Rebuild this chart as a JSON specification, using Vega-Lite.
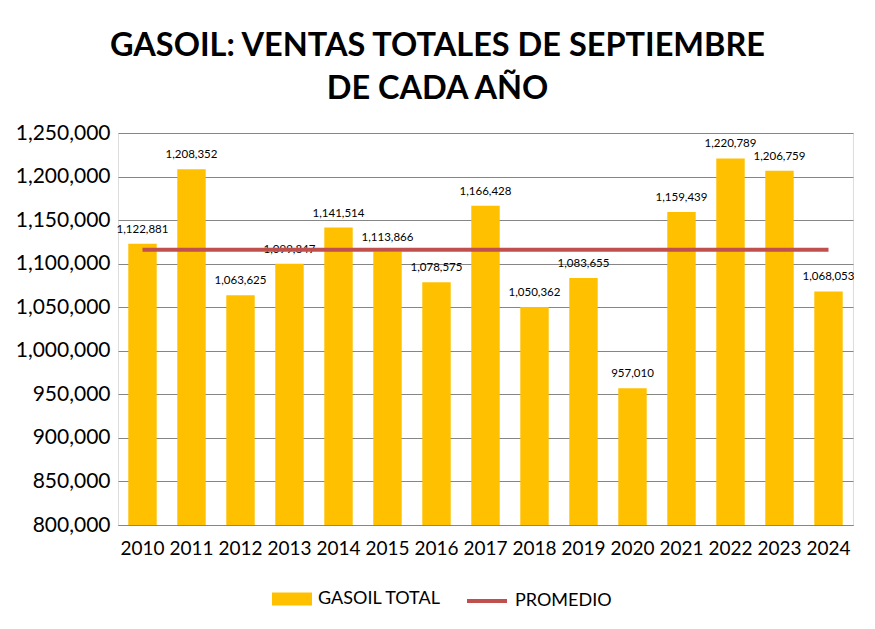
{
  "$schema": "https://vega.github.io/schema/vega-lite/v6.json",
  "width": 735,
  "height": 392,
  "autosize": {"type": "none"},
  "padding": {"left": 118, "top": 133, "right": 22, "bottom": 104},
  "background": "white",
  "title": {
    "text": ["GASOIL: VENTAS TOTALES DE SEPTIEMBRE", "DE CADA AÑO"],
    "font": "Lato",
    "fontSize": 32.5,
    "fontWeight": "bold",
    "color": "#000000",
    "anchor": "middle",
    "dx": -48,
    "offset": 17,
    "lineHeight": 43
  },
  "data": {
    "values": [
      {"year": "2010", "total": 1122881, "promedio": 1116077, "serie": "GASOIL TOTAL", "linea": "PROMEDIO"},
      {"year": "2011", "total": 1208352, "promedio": 1116077, "serie": "GASOIL TOTAL", "linea": "PROMEDIO"},
      {"year": "2012", "total": 1063625, "promedio": 1116077, "serie": "GASOIL TOTAL", "linea": "PROMEDIO"},
      {"year": "2013", "total": 1099847, "promedio": 1116077, "serie": "GASOIL TOTAL", "linea": "PROMEDIO"},
      {"year": "2014", "total": 1141514, "promedio": 1116077, "serie": "GASOIL TOTAL", "linea": "PROMEDIO"},
      {"year": "2015", "total": 1113866, "promedio": 1116077, "serie": "GASOIL TOTAL", "linea": "PROMEDIO"},
      {"year": "2016", "total": 1078575, "promedio": 1116077, "serie": "GASOIL TOTAL", "linea": "PROMEDIO"},
      {"year": "2017", "total": 1166428, "promedio": 1116077, "serie": "GASOIL TOTAL", "linea": "PROMEDIO"},
      {"year": "2018", "total": 1050362, "promedio": 1116077, "serie": "GASOIL TOTAL", "linea": "PROMEDIO"},
      {"year": "2019", "total": 1083655, "promedio": 1116077, "serie": "GASOIL TOTAL", "linea": "PROMEDIO"},
      {"year": "2020", "total": 957010, "promedio": 1116077, "serie": "GASOIL TOTAL", "linea": "PROMEDIO"},
      {"year": "2021", "total": 1159439, "promedio": 1116077, "serie": "GASOIL TOTAL", "linea": "PROMEDIO"},
      {"year": "2022", "total": 1220789, "promedio": 1116077, "serie": "GASOIL TOTAL", "linea": "PROMEDIO"},
      {"year": "2023", "total": 1206759, "promedio": 1116077, "serie": "GASOIL TOTAL", "linea": "PROMEDIO"},
      {"year": "2024", "total": 1068053, "promedio": 1116077, "serie": "GASOIL TOTAL", "linea": "PROMEDIO"}
    ]
  },
  "encoding": {
    "x": {
      "field": "year",
      "type": "ordinal",
      "title": null,
      "scale": {"paddingInner": 0.42, "paddingOuter": 0.21},
      "axis": {
        "labelAngle": 0,
        "labelFont": "Lato",
        "labelFontSize": 19,
        "labelColor": "#000000",
        "labelPadding": 14,
        "ticks": false,
        "domainColor": "#868686",
        "domainWidth": 1
      }
    }
  },
  "layer": [
    {
      "mark": {"type": "bar", "clip": true},
      "encoding": {
        "y": {
          "field": "total",
          "type": "quantitative",
          "title": null,
          "scale": {"domain": [800000, 1250000], "nice": false, "zero": false},
          "axis": {
            "values": [800000, 850000, 900000, 950000, 1000000, 1050000, 1100000, 1150000, 1200000, 1250000],
            "format": ",d",
            "labelFont": "Lato",
            "labelFontSize": 21,
            "labelColor": "#000000",
            "labelPadding": 8,
            "ticks": false,
            "domain": false,
            "gridColor": "#868686",
            "gridWidth": 1
          }
        },
        "y2": {"datum": 800000},
        "fill": {
          "field": "serie",
          "type": "nominal",
          "scale": {"domain": ["GASOIL TOTAL"], "range": ["#FFC000"]},
          "legend": {
            "title": null,
            "orient": "none",
            "legendX": 154,
            "legendY": 446,
            "labelFont": "Lato",
            "labelFontSize": 18,
            "labelColor": "#000000",
            "symbolType": "M-1,-0.32H1V0.32H-1Z",
            "symbolSize": 1600,
            "symbolStrokeWidth": 0,
            "labelOffset": 6
          }
        }
      }
    },
    {
      "mark": {"type": "text", "baseline": "bottom", "dy": -9, "font": "Lato", "fontSize": 11.5, "color": "#000000"},
      "encoding": {
        "y": {"field": "total", "type": "quantitative"},
        "text": {"field": "total", "type": "quantitative", "format": ",d"}
      }
    },
    {
      "mark": {"type": "line", "strokeWidth": 4},
      "encoding": {
        "y": {"field": "promedio", "type": "quantitative"},
        "stroke": {
          "field": "linea",
          "type": "nominal",
          "scale": {"domain": ["PROMEDIO"], "range": ["#C0504D"]},
          "legend": {
            "title": null,
            "orient": "none",
            "legendX": 347,
            "legendY": 446,
            "labelFont": "Lato",
            "labelFontSize": 18,
            "labelColor": "#000000",
            "symbolType": "stroke",
            "symbolSize": 1600,
            "symbolStrokeWidth": 4,
            "labelOffset": 6
          }
        }
      }
    }
  ]
}
